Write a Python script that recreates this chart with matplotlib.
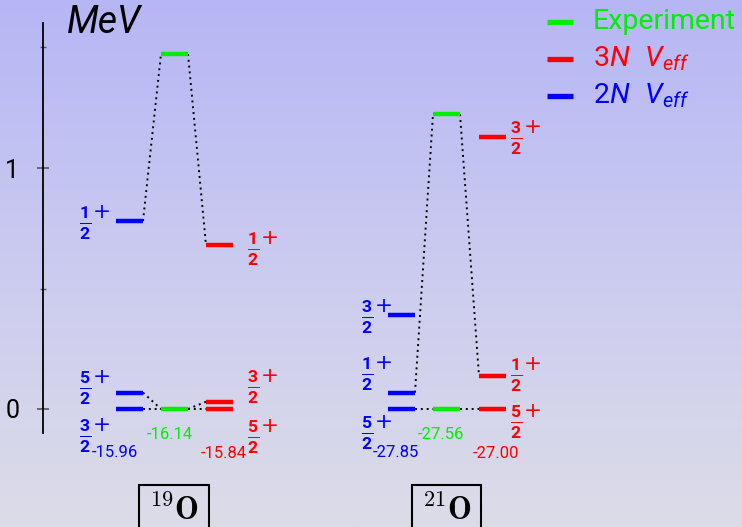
import numpy as np
import matplotlib.pyplot as plt
from matplotlib.colors import LinearSegmentedColormap

plt.rcParams['font.family'] = ['Roboto', 'DejaVu Sans']
plt.rcParams['mathtext.fontset'] = 'custom'
plt.rcParams['mathtext.rm'] = 'Roboto'
plt.rcParams['mathtext.it'] = 'Roboto:italic'
plt.rcParams['mathtext.bf'] = 'Roboto:bold'

# level energies in MeV (excitation), per nucleus and model
nuclei = ["19", "21"]
models = ["2N", "Exp", "3N"]
levels = {
    "19": {"2N": [0.0, 0.068, 0.78], "Exp": [0.0, 1.473], "3N": [0.0, 0.03, 0.68]},
    "21": {"2N": [0.0, 0.068, 0.39], "Exp": [0.0, 1.223], "3N": [0.0, 0.137, 1.13]},
}
# spin labels (numerator of j) for the 2N and 3N columns
spins = {
    "19": {"2N": [3, 5, 1], "3N": [5, 3, 1]},
    "21": {"2N": [5, 1, 3], "3N": [5, 1, 3]},
}
ground = {
    "19": {"2N": "-15.96", "Exp": "-16.14", "3N": "-15.84"},
    "21": {"2N": "-27.85", "Exp": "-27.56", "3N": "-27.00"},
}
# pairs (model level index -> exp level index) joined by dotted lines
links = {
    "19": {"2N": [(1, 0), (0, 0), (2, 1)], "3N": [(0, 0), (1, 0), (2, 1)]},
    "21": {"2N": [(0, 0), (1, 1)], "3N": [(0, 0), (1, 1)]},
}

colors = {"2N": "#0000ff", "Exp": "#00ee00", "3N": "#ff0000"}
legend_labels = ["Experiment", r"$3N\ \ V_{eff}$", r"$2N\ \ V_{eff}$"]
legend_models = ["Exp", "3N", "2N"]

# layout (pixel-like x, energy y)
col_x = {"19": {"2N": 116, "Exp": 161, "3N": 206},
         "21": {"2N": 388, "Exp": 433, "3N": 479}}
bar_w = 27
spin_dx = {"19": {"2N": -37, "3N": 14}, "21": {"2N": -27, "3N": 4}}
spin_dy = {  # vertical offset of spin labels, MeV
    "19": {"2N": [-0.112, 0.019, -0.007], "3N": [-0.116, 0.061, -0.017]},
    "21": {"2N": [-0.1, 0.077, -0.008], "3N": [-0.054, 0.004, -0.005]},
}
num_dx = {"19": {"2N": -1, "Exp": 8.5, "3N": 18},
          "21": {"2N": 8, "Exp": 8, "3N": 17}}
num_y = {"2N": -0.182, "Exp": -0.104, "3N": -0.185}
box_dx = {"19": 13, "21": 13.5}

W, H = 742, 527
fig = plt.figure(figsize=(W / 100, H / 100), dpi=100)
ax = fig.add_axes([0, 0, 1, 1])
ax.set_xlim(0, W)
ylo, yhi = (409 - H) / 241, 409 / 241
ax.set_ylim(ylo, yhi)

cmap = LinearSegmentedColormap.from_list("bg", ["#dcdce8", "#cbcbf0", "#b6b6f6"])
ax.imshow(np.linspace(0, 1, 256)[:, None], cmap=cmap, aspect="auto",
          extent=[0, W, ylo, yhi], origin="lower", zorder=0)

for nuc in nuclei:
    for m in models:
        x0 = col_x[nuc][m]
        for e in levels[nuc][m]:
            ax.plot([x0, x0 + bar_w], [e, e], color=colors[m], lw=3.2,
                    solid_capstyle="butt", zorder=3)
    xe = col_x[nuc]["Exp"]
    for i, j in links[nuc]["2N"]:
        ax.plot([col_x[nuc]["2N"] + bar_w, xe],
                [levels[nuc]["2N"][i], levels[nuc]["Exp"][j]],
                color="black", lw=1.4, ls=(0, (1, 2)), zorder=2)
    for i, j in links[nuc]["3N"]:
        ax.plot([xe + bar_w, col_x[nuc]["3N"]],
                [levels[nuc]["Exp"][j], levels[nuc]["3N"][i]],
                color="black", lw=1.4, ls=(0, (1, 2)), zorder=2)
    # spin labels
    for m in ["2N", "3N"]:
        xs = col_x[nuc][m] + spin_dx[nuc][m] + (bar_w if m == "3N" else 0)
        for k, (e, s) in enumerate(zip(levels[nuc][m], spins[nuc][m])):
            y = e + spin_dy[nuc][m][k]
            ax.text(xs, y, r"$\frac{\mathbf{%d}}{\mathbf{2}}$" % s,
                    color=colors[m], fontsize=18, ha="left", va="center")
            ax.text(xs + 13.5, y + 0.045, "+", color=colors[m], fontsize=15.5,
                    family="DejaVu Sans", ha="left", va="center")
    # ground state energies
    for m in models:
        ax.text(col_x[nuc][m] + num_dx[nuc][m], num_y[m], ground[nuc][m],
                color=colors[m], fontsize=12, ha="center", va="center")
    ax.text(col_x[nuc]["Exp"] + box_dx[nuc], -0.46, r"$^{%s}\mathbf{O}$" % nuc,
            fontsize=23, ha="center", va="baseline", math_fontfamily="cm",
            bbox=dict(boxstyle="square,pad=0.3", fc="none", ec="black", lw=1.5))

# energy axis
ax.spines[["top", "right", "bottom"]].set_visible(False)
ax.spines["left"].set_position(("data", 43))
ax.spines["left"].set_bounds((409 - 433) / 241, (409 - 23) / 241)
ax.spines["left"].set_linewidth(1.3)
ax.spines["left"].set_zorder(4)
ax.set_xticks([])
ax.set_yticks([0, 1])
ax.set_yticks([0.5, 1.5], minor=True)
ax.tick_params(axis="y", which="major", direction="inout", length=8,
               width=1.2, color="#555555", labelsize=18, pad=13)
ax.tick_params(axis="y", which="minor", direction="inout", length=4.5,
               width=1.0, color="#555555")
ax.text(67, (409 - 23) / 241, "MeV", fontsize=27, style="italic",
        ha="left", va="center")

# legend
for k, (m, lab) in enumerate(zip(legend_models, legend_labels)):
    y = (409 - (22 + 37 * k)) / 241
    ax.plot([547, 573], [y, y], color=colors[m], lw=3.8, solid_capstyle="butt")
    ax.text(593, y, lab, color=colors[m], fontsize=20.5, ha="left", va="center")

fig.savefig("out.png", dpi=100)
